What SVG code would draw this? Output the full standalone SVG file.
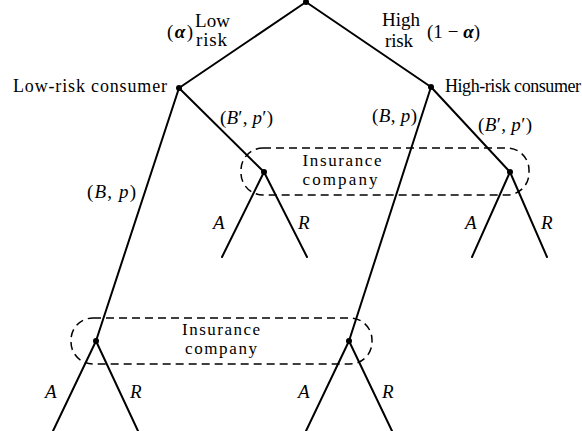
<svg xmlns="http://www.w3.org/2000/svg" width="582" height="431" viewBox="0 0 582 431">
<style>
text{font-family:"Liberation Serif","Times New Roman",serif;font-size:19px;fill:#000}
.i{font-style:italic}
.c{font-size:17px}
.k{font-size:18px}
.e{stroke:#000;stroke-width:2;fill:none;stroke-linecap:round}
.d{stroke:#000;stroke-width:1.5;fill:none;stroke-dasharray:8 5}
.n{fill:#000}
</style>
<rect width="582" height="431" fill="#fff"/>
<g id="connectors">
<line class="e" x1="306" y1="2" x2="179" y2="88"/>
<line class="e" x1="306" y1="2" x2="431" y2="87"/>
<line class="e" x1="179" y1="88" x2="96" y2="341"/>
<line class="e" x1="179" y1="88" x2="264" y2="172"/>
<line class="e" x1="431" y1="87" x2="349" y2="341"/>
<line class="e" x1="431" y1="87" x2="510" y2="172"/>
<line class="e" x1="264" y1="172" x2="222" y2="257"/>
<line class="e" x1="264" y1="172" x2="307" y2="257"/>
<line class="e" x1="510" y1="172" x2="472" y2="257"/>
<line class="e" x1="510" y1="172" x2="547" y2="257"/>
<line class="e" x1="96" y1="341" x2="53" y2="431"/>
<line class="e" x1="96" y1="341" x2="138" y2="431"/>
<line class="e" x1="349" y1="341" x2="306" y2="431"/>
<line class="e" x1="349" y1="341" x2="392" y2="431"/>
</g>
<g id="info-upper">
<rect class="d" x="241" y="148" width="288" height="47" rx="22" ry="22"/>
<text class="c" x="342" y="166" text-anchor="middle" textLength="79">Insurance</text>
<text class="c" x="340" y="185" text-anchor="middle" textLength="75">company</text>
</g>
<g id="info-lower">
<rect class="d" x="71" y="318" width="301" height="46" rx="22" ry="22"/>
<text class="c" x="221" y="335" text-anchor="middle" textLength="78">Insurance</text>
<text class="c" x="221" y="354" text-anchor="middle" textLength="72">company</text>
</g>
<g id="root">
<circle class="n" cx="306" cy="2" r="3"/>
<text x="167" y="38" textLength="26">(<tspan class="i" font-weight="bold">α</tspan>)</text>
<text x="195" y="27" textLength="35">Low</text>
<text x="196" y="46" textLength="31">risk</text>
<text x="382" y="26" textLength="38">High</text>
<text x="385" y="47" textLength="28">risk</text>
<text x="427" y="38" textLength="53">(1 − <tspan class="i" font-weight="bold">α</tspan>)</text>
</g>
<g id="low-risk-consumer">
<circle class="n" cx="179" cy="88" r="3"/>
<text class="k" x="13" y="92" textLength="154">Low-risk consumer</text>
<text x="87" y="198" textLength="49">(<tspan class="i">B</tspan>, <tspan class="i">p</tspan>)</text>
<text x="220" y="124" textLength="53">(<tspan class="i">B</tspan>′, <tspan class="i">p</tspan>′)</text>
</g>
<g id="high-risk-consumer">
<circle class="n" cx="431" cy="87" r="3"/>
<text class="k" x="445" y="92" textLength="136">High-risk consumer</text>
<text x="372" y="122" textLength="45">(<tspan class="i">B</tspan>, <tspan class="i">p</tspan>)</text>
<text x="478" y="131" textLength="54">(<tspan class="i">B</tspan>′, <tspan class="i">p</tspan>′)</text>
</g>
<g id="insurer-1">
<circle class="n" cx="264" cy="172" r="3"/>
<text class="i" x="213" y="229">A</text>
<text class="i" x="298" y="229">R</text>
</g>
<g id="insurer-2">
<circle class="n" cx="510" cy="172" r="3"/>
<text class="i" x="465" y="229">A</text>
<text class="i" x="541" y="229">R</text>
</g>
<g id="insurer-3">
<circle class="n" cx="96" cy="341" r="3"/>
<text class="i" x="45" y="398">A</text>
<text class="i" x="130" y="398">R</text>
</g>
<g id="insurer-4">
<circle class="n" cx="349" cy="341" r="3"/>
<text class="i" x="298" y="398">A</text>
<text class="i" x="382" y="398">R</text>
</g>
</svg>
